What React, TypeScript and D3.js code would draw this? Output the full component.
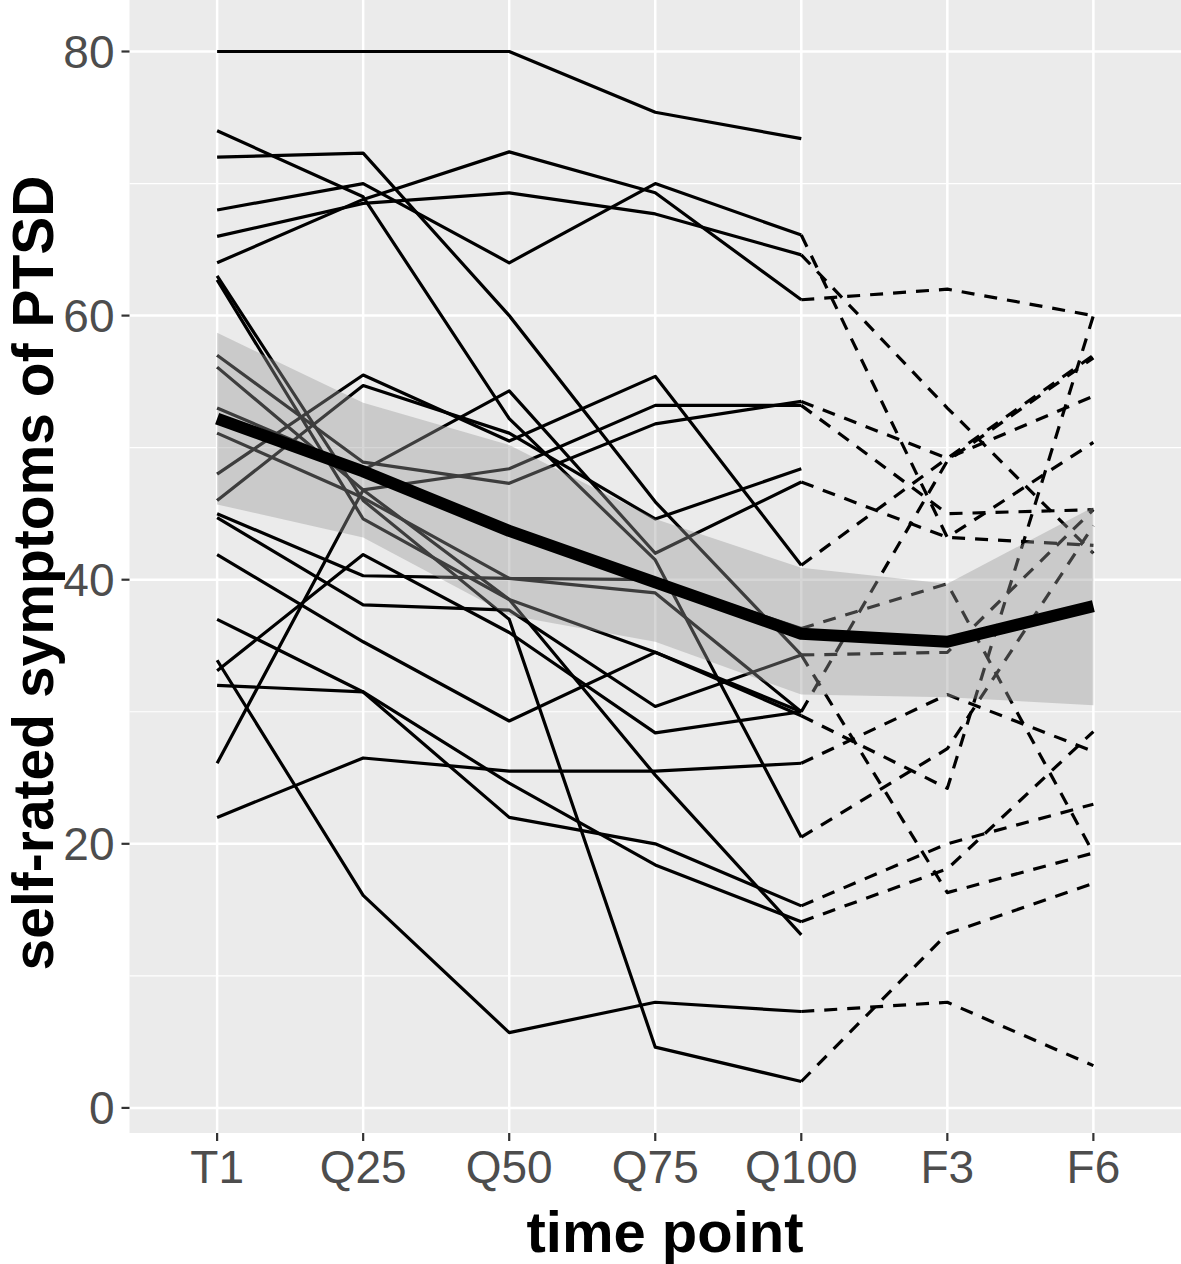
import React from 'react';
import * as d3 from 'd3';

const timePoints = ['T1', 'Q25', 'Q50', 'Q75', 'Q100', 'F3', 'F6'];
const yMajor = [0, 20, 40, 60, 80];
const yMinor = [10, 30, 50, 70];

// values per subject at T1, Q25, Q50, Q75, Q100, F3, F6 (null = missing)
const s01 = [80, 80, 80, 75.4, 73.4, null, null];
const s02 = [72, 72.3, 60, 45.9, 34.3, 16.3, 19.3];
const s03 = [68, 70, 64, 70, 66.1, 43.2, 50.4];
const s04 = [66, 68.5, 69.3, 67.7, 64.6, 53, 42];
const s05 = [64, 68.8, 72.4, 69.3, 61.2, 62, 60];
const s06 = [74, 69, 52.2, 41.5, 20.5, 27.2, 44.1];
const s07 = [48, 55.5, 50.5, 55.4, 41.1, 49.2, 57];
const s08 = [46, 54.7, 51.1, 44.6, 48.4, null, null];
const s09 = [57, 48.9, 47.3, 51.8, 53.5, 49.2, 53.9];
const s10 = [56.1, 46.8, 48.4, 53.2, 53.2, 45, 45.3];
const s11 = [53, 48.3, 54.3, 42, 47.4, 43.2, 42.6];
const s12 = [51.1, 46.2, 40.1, 40, 36.3, 39.7, 19.3];
const s13 = [63, 46, 37, 4.6, 2.0, 13.2, 17.0];
const s14 = [62.7, 44.6, 38.5, 34.5, 29.7, 24.2, 60];
const s15 = [45, 40.3, 40.1, 39, 30, 49, 56.8];
const s16 = [44.7, 38.1, 37.7, 30.4, 34.3, 34.5, 45.3];
const s17 = [41.9, 35.3, 29.3, 34.5, 30.0, null, null];
const s18 = [37, 31.5, 22, 20, 15.3, 20, 23];
const s19 = [33.9, 16.1, 5.7, 8, 7.3, 8, 3.2];
const s20 = [33.1, 41.9, 36, 28.4, 30, null, null];
const s21 = [32, 31.5, 24.6, 18.4, 14.1, 18.1, 28.5];
const s22 = [26.1, 46.8, 38.5, 25.2, 13.1, null, null];
const s23 = [22, 26.5, 25.5, 25.5, 26.1, 31.3, 27];

const subjects = [s01, s02, s03, s04, s05, s06, s07, s08, s09, s10, s11, s12,
  s13, s14, s15, s16, s17, s18, s19, s20, s21, s22, s23];

const meanValues = [52.2, 48.2, 43.7, 39.8, 35.9, 35.3, 38.0];
const ribbonLower = [45.7, 43.2, 37.3, 35.3, 31.3, 31.1, 30.5];
const ribbonUpper = [58.7, 53.4, 50.2, 44.6, 40.9, 39.7, 45.5];

const W = 1181;
const H = 1264;
const panel = { left: 129.5, right: 1181, top: 0, bottom: 1133 };
const FONT = '"Liberation Sans", Arial, Helvetica, sans-serif';

export default function App() {
  const x = d3.scalePoint<string>().domain(timePoints).range([panel.left, panel.right]).padding(0.6);
  const y = d3.scaleLinear().domain([-1.9, 83.9]).range([panel.bottom, panel.top]);

  type P = { t: string; v: number };
  const line = d3.line<P>().x((d) => x(d.t) as number).y((d) => y(d.v));

  const solidPaths: string[] = [];
  const dashedPaths: string[] = [];
  subjects.forEach((s) => {
    const solid: P[] = [];
    for (let i = 0; i <= 4; i++) if (s[i] != null) solid.push({ t: timePoints[i], v: s[i] as number });
    if (solid.length > 1) solidPaths.push(line(solid) as string);
    const dashed: P[] = [];
    for (let i = 4; i <= 6; i++) if (s[i] != null) dashed.push({ t: timePoints[i], v: s[i] as number });
    if (dashed.length > 1) dashedPaths.push(line(dashed) as string);
  });

  const ribbonData = timePoints.map((t, i) => ({ t, lo: ribbonLower[i], hi: ribbonUpper[i] }));
  const area = d3.area<{ t: string; lo: number; hi: number }>()
    .x((d) => x(d.t) as number)
    .y0((d) => y(d.lo))
    .y1((d) => y(d.hi));
  const meanPath = line(timePoints.map((t, i) => ({ t, v: meanValues[i] }))) as string;

  return (
    <svg width={W} height={H} style={{ position: 'absolute', left: 0, top: 0, background: '#fff' }}
      fontFamily={FONT}>
      <rect x={panel.left} y={panel.top} width={panel.right - panel.left} height={panel.bottom - panel.top} fill="#EBEBEB" />
      {yMinor.map((v) => (
        <line key={'mn' + v} x1={panel.left} x2={panel.right} y1={y(v)} y2={y(v)} stroke="#fff" strokeWidth={1.2} />
      ))}
      {yMajor.map((v) => (
        <line key={'mj' + v} x1={panel.left} x2={panel.right} y1={y(v)} y2={y(v)} stroke="#fff" strokeWidth={2.5} />
      ))}
      {timePoints.map((t) => (
        <line key={'gx' + t} x1={x(t)} x2={x(t)} y1={panel.top} y2={panel.bottom} stroke="#fff" strokeWidth={2.5} />
      ))}
      <g fill="none" stroke="#000" strokeWidth={3.2} strokeLinejoin="round">
        {solidPaths.map((d, i) => <path key={'s' + i} d={d} />)}
        {dashedPaths.map((d, i) => <path key={'d' + i} d={d} strokeDasharray="13,10" />)}
      </g>
      <path d={area(ribbonData) as string} fill="#999999" fillOpacity={0.4} />
      <path d={meanPath} fill="none" stroke="#000" strokeWidth={12} strokeLinejoin="round" />
      {yMajor.map((v) => (
        <g key={'yt' + v}>
          <line x1={panel.left - 8} x2={panel.left} y1={y(v)} y2={y(v)} stroke="#333" strokeWidth={2.2} />
          <text x={panel.left - 15} y={y(v)} dy="0.36em" textAnchor="end" fontSize={46} fill="#4D4D4D">{v}</text>
        </g>
      ))}
      {timePoints.map((t) => (
        <g key={'xt' + t}>
          <line x1={x(t)} x2={x(t)} y1={panel.bottom} y2={panel.bottom + 8} stroke="#333" strokeWidth={2.2} />
          <text x={x(t)} y={panel.bottom + 50} textAnchor="middle" fontSize={46} fill="#4D4D4D">{t}</text>
        </g>
      ))}
      <text x={665} y={1252} textAnchor="middle" fontSize={58} fontWeight="bold" fill="#000">time point</text>
      <text transform={`translate(53, 573) rotate(-90)`} textAnchor="middle" fontSize={57} fontWeight="bold" fill="#000">self-rated symptoms of PTSD</text>
    </svg>
  );
}
